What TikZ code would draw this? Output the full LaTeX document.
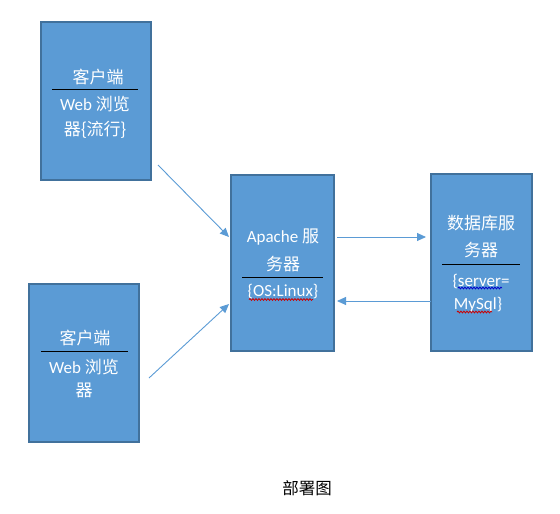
\documentclass[tikz,border=0pt]{standalone}
\usepackage{fontspec}
\setmainfont{Carlito}
\newfontfamily\zhfont{Noto Sans CJK SC}
\newcommand{\zh}[1]{{\zhfont #1}}
\usetikzlibrary{arrows.meta,decorations.pathmorphing}
\definecolor{boxfill}{HTML}{5B9BD5}
\definecolor{boxedge}{HTML}{41719C}
\definecolor{arrowcol}{HTML}{5B9BD5}
\tikzset{
  box/.style={draw=boxedge,line width=1.5pt,fill=boxfill},
  txt/.style={text=white,font=\fontsize{17}{20}\selectfont,inner sep=0pt,anchor=center},
  sep/.style={draw=black,line width=0.9pt},
  conn/.style={draw=arrowcol,line width=0.9pt,-{Triangle[length=9pt,width=8pt]}},
  squig/.style={line width=0.8pt,decorate,decoration={snake,amplitude=0.9pt,segment length=3pt}},
}
\begin{document}
\begin{tikzpicture}[x=1pt,y=-1pt]
\useasboundingbox (0,0) rectangle (560,514);
% boxes
\path[box] (41,22) rectangle (151,180);
\path[box] (29,284) rectangle (139,442);
\path[box] (231,175) rectangle (334,351);
\path[box] (431,174) rectangle (532,351);
% client 1
\node[txt] (c1a) at (98,77) {\zh{客户端}};
\draw[sep] (52,89) -- (138,89);
\node[txt] (c1b) at (95,104) {Web \zh{浏览}};
\node[txt] (c1c) at (95,130) {\zh{器\{流行\}}};
% client 2
\node[txt] (c2a) at (85,338) {\zh{客户端}};
\draw[sep] (41,351) -- (128,351);
\node[txt] (c2b) at (84,367) {Web \zh{浏览}};
\node[txt] (c2c) at (84,390) {\zh{器}};
% apache
\node[txt] (apa) at (283,237) {Apache \zh{服}};
\node[txt] (apb) at (283,264) {\zh{务器}};
\draw[sep] (242,277) -- (323,277);
\node[txt] (apc) at (283,292) {\{OS:Linux\}};
% db
\node[txt] (dba) at (481,223) {\zh{数据库服}};
\node[txt] (dbb) at (481,250) {\zh{务器}};
\draw[sep] (442,264) -- (520,264);
\node[txt] (dbc) at (481,282) {\{server=};
\node[txt] (dbd) at (478,305) {MySql\}};
% squiggles
\draw[squig,red!80!black] (249,299.5) -- (313,299.5);
\draw[squig,blue!80!black] (458,288) -- (502,288);
\draw[squig,red!80!black] (457,312) -- (492,312);
% connectors
\coordinate (s1) at (158,165);
\coordinate (e1) at (229,237);
\coordinate (s2) at (149,378);
\coordinate (e2) at (229,304);
\coordinate (s3) at (337,237);
\coordinate (e3) at (426,237);
\coordinate (s4) at (431,301);
\coordinate (e4) at (337,301);
\draw[conn] (s1) -- (e1);
\draw[conn] (s2) -- (e2);
\draw[conn] (s3) -- (e3);
\draw[conn] (s4) -- (e4);
% caption
\node[font=\zhfont\fontsize{16.5}{19}\selectfont,inner sep=0pt] (cap) at (307,488) {部署图};
\end{tikzpicture}
\end{document}
